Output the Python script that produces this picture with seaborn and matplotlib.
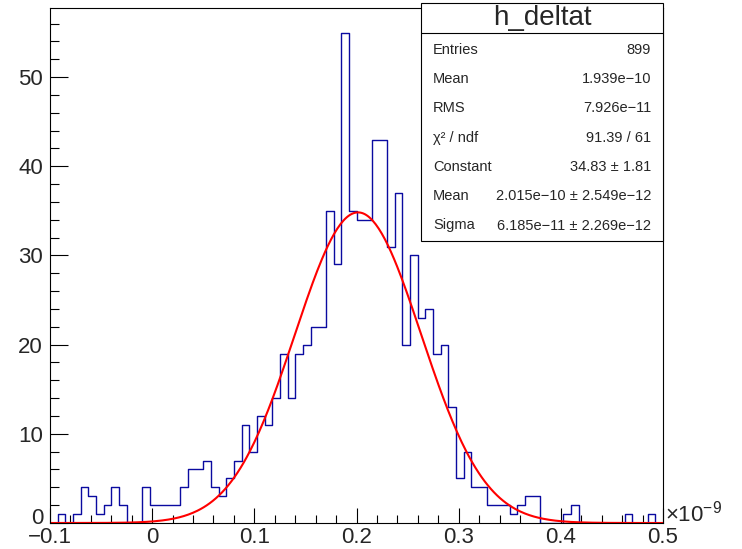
import numpy as np
import pandas as pd
import matplotlib
matplotlib.use("Agg")
import matplotlib.pyplot as plt
from matplotlib.patches import Rectangle
from matplotlib.lines import Line2D
from matplotlib.ticker import MultipleLocator
from matplotlib.transforms import ScaledTranslation
import seaborn as sns

# h_deltat: 80 bins between -0.1 and 0.5 (x in units of 1e-9)
x_min, x_max, n_bins = -0.1, 0.5, 80
counts = [
    0, 1, 0, 1, 4, 3, 1, 2, 4, 2,
    0, 0, 4, 2, 2, 2, 2, 4, 6, 6,
    7, 4, 3, 5, 7, 11, 8, 12, 11, 14,
    19, 14, 19, 20, 22, 22, 35, 29, 55, 35,
    34, 34, 43, 43, 31, 37, 20, 30, 23, 24,
    19, 20, 13, 5, 8, 4, 4, 2, 2, 2,
    1, 2, 3, 3, 0, 0, 0, 1, 2, 0,
    0, 0, 0, 0, 0, 1, 0, 0, 1, 0,
]

# gaussian fit parameters
fit_constant = 34.83
fit_mean = 0.2015
fit_sigma = 0.06185

x_ticks = [-0.1, 0.0, 0.1, 0.2, 0.3, 0.4, 0.5]
x_tick_labels = ["\u22120.1", "0", "0.1", "0.2", "0.3", "0.4", "0.5"]
y_ticks = [0, 10, 20, 30, 40, 50]
y_tick_labels = ["0", "10", "20", "30", "40", "50"]

stat_title = "h_deltat"
stat_labels = ["Entries", "Mean", "RMS", "\u03c7\u00b2 / ndf", "Constant", "Mean", "Sigma"]
stat_values = [
    "899",
    "1.939e\u221210",
    "7.926e\u221211",
    "91.39 / 61",
    "34.83 \u00b1 1.81",
    "2.015e\u221210 \u00b1 2.549e\u221212",
    "6.185e\u221211 \u00b1 2.269e\u221212",
]

sns.set_theme(style="white")
plt.rcParams["font.family"] = ["Liberation Sans", "DejaVu Sans"]
plt.rcParams["mathtext.fontset"] = "custom"
plt.rcParams["mathtext.rm"] = "Liberation Sans"
plt.rcParams["mathtext.it"] = "Liberation Sans:italic"

W, H = 742, 549
fig = plt.figure(figsize=(W / 100, H / 100), dpi=100)
fig.patch.set_facecolor("white")

def fx(px):
    return px / W

def fy(py):
    return 1 - py / H

frame_l, frame_r, frame_t, frame_b = 50, 663, 8, 523
ax = fig.add_axes([fx(frame_l), fy(frame_b), fx(frame_r) - fx(frame_l), fy(frame_t) - fy(frame_b)])
ax.set_facecolor("white")

edges = [x_min + i * (x_max - x_min) / n_bins for i in range(n_bins + 1)]
centers = [0.5 * (a + b) for a, b in zip(edges[:-1], edges[1:])]
hist_df = pd.DataFrame({"t": centers, "n": counts})

sns.histplot(data=hist_df, x="t", weights="n", bins=edges, element="step", fill=False,
             color="#0a0aa0", linewidth=1.0, ax=ax)

xs = np.linspace(x_min, x_max, 400)
ys = fit_constant * np.exp(-0.5 * ((xs - fit_mean) / fit_sigma) ** 2)
sns.lineplot(x=xs, y=ys, color="#ff0000", linewidth=1.5, ax=ax)

ax.set_xlim(x_min, x_max)
ax.set_ylim(0, max(counts) * 1.05)
ax.set_xlabel("")
ax.set_ylabel("")

ax.set_xticks(x_ticks)
ax.set_xticklabels(x_tick_labels)
ax.set_yticks(y_ticks)
ax.set_yticklabels(y_tick_labels)
ax.xaxis.set_minor_locator(MultipleLocator(0.02))
ax.yaxis.set_minor_locator(MultipleLocator(2))

ax.tick_params(axis="x", which="major", direction="in", length=11.1, width=0.8,
               color="black", labelsize=16, pad=3, bottom=True, top=False)
ax.tick_params(axis="x", which="minor", direction="in", length=5.6, width=0.8,
               color="black", bottom=True, top=False)
ax.tick_params(axis="y", which="major", direction="in", length=13.2, width=0.8,
               color="black", labelsize=16, pad=5, left=True, right=False)
ax.tick_params(axis="y", which="minor", direction="in", length=6.6, width=0.8,
               color="black", left=True, right=False)

# lift the "0" count label a little so it clears the first x label
zero_label = ax.get_yticklabels()[0]
zero_label.set_transform(zero_label.get_transform() + ScaledTranslation(0, 5 / 72, fig.dpi_scale_trans))

for s in ax.spines.values():
    s.set_visible(True)
    s.set_color("black")
    s.set_linewidth(0.8)

fig.text(fx(665), fy(514), r"$\times10^{-9}$", ha="left", va="center", fontsize=16)

# statistics box
box_l, box_r, box_t, box_b, box_sep = 421, 663, 3, 241, 33
fig.add_artist(Rectangle((fx(box_l), fy(box_b)), fx(box_r) - fx(box_l), fy(box_t) - fy(box_b),
                         transform=fig.transFigure, facecolor="white", edgecolor="black",
                         linewidth=0.8, zorder=5))
fig.add_artist(Line2D([fx(box_l), fx(box_r)], [fy(box_sep), fy(box_sep)],
                      transform=fig.transFigure, color="black", linewidth=0.8, zorder=6))
fig.text(fx((box_l + box_r) / 2), fy(18), stat_title, ha="center", va="center",
         fontsize=20, zorder=7)
row_y = np.linspace(50, 225.5, len(stat_labels))
for yy, lab, val in zip(row_y, stat_labels, stat_values):
    fig.text(fx(433), fy(yy), lab, ha="left", va="center", fontsize=10.5, zorder=7)
    fig.text(fx(651), fy(yy), val, ha="right", va="center", fontsize=10.5, zorder=7)

fig.savefig("out.png", dpi=100, facecolor="white")
